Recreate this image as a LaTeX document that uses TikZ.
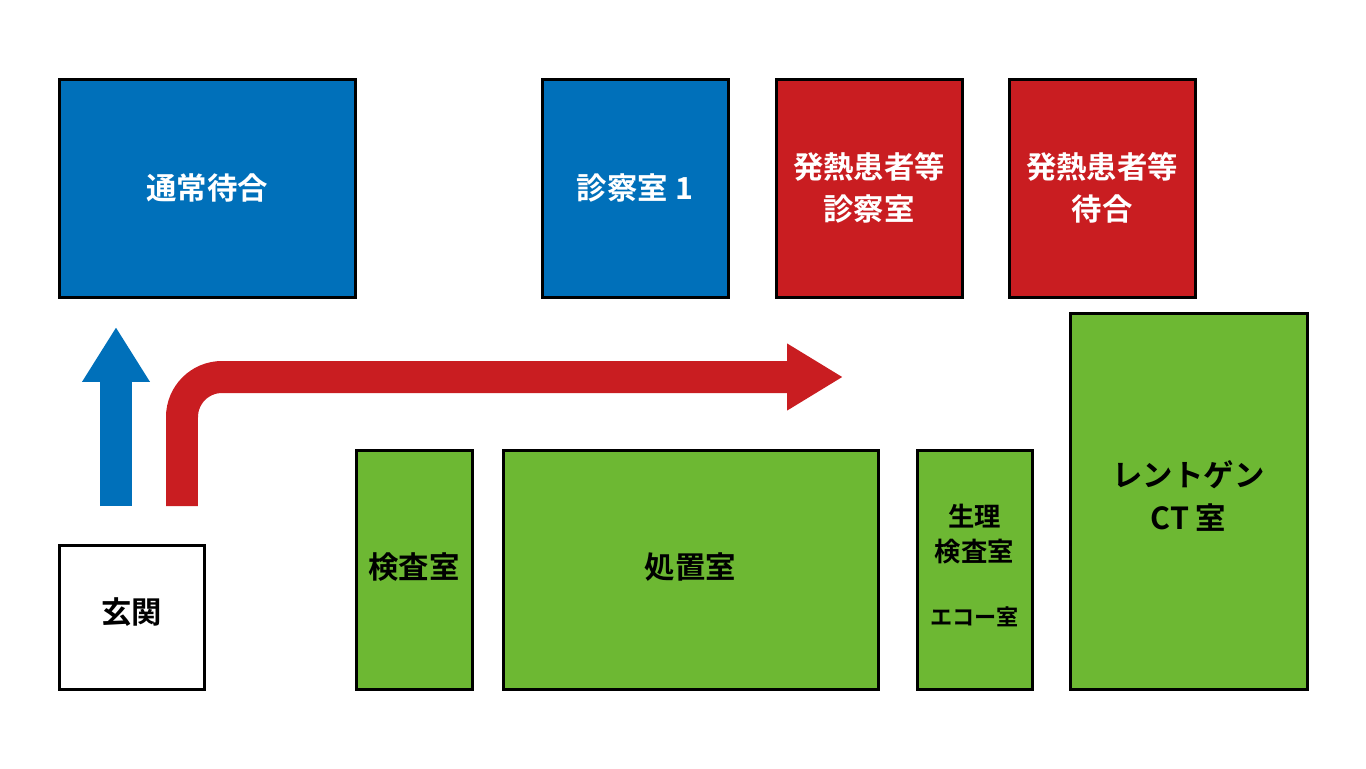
\documentclass[tikz,border=0pt]{standalone}
\usepackage{fontspec}
\setmainfont{Noto Sans CJK JP}[BoldFont={* Bold}]
\usetikzlibrary{arrows.meta}
\definecolor{roomblue}{HTML}{0070BA}
\definecolor{roomred}{HTML}{C91D21}
\definecolor{roomgreen}{HTML}{6DB833}
\begin{document}
\begin{tikzpicture}[x=0.02cm,y=-0.02cm,
  room/.style={draw=black,line width=0.06cm},
  label/.style={align=center,font=\fontsize{17.3}{24}\selectfont\bfseries},
  small/.style={align=center,font=\fontsize{15}{20}\selectfont\bfseries},
  tiny/.style={align=center,font=\fontsize{12.6}{14}\selectfont\bfseries}]
\useasboundingbox (0,0) rectangle (1366,768);
%\draw[help lines,step=100] (0,0) grid (1366,768);
% rooms on top
\draw[room,fill=roomblue] (59,79) rectangle (355,297) node[midway,label,white] (wait) {通常待合};
\draw[room,fill=roomblue] (542,79) rectangle (728,297) node[midway,label,white] (exam) {診察室 1};
\draw[room,fill=roomred] (776,79) rectangle (962,297) node[midway,label,white] (feverexam) {発熱患者等\\診察室};
\draw[room,fill=roomred] (1009,79) rectangle (1195,297) node[midway,label,white] (feverwait) {発熱患者等\\待合};
% rooms below
\draw[room,fill=white] (59,545) rectangle (204,689) node[midway,label,yshift=0.1cm] (entrance) {玄関};
\draw[room,fill=roomgreen] (356,450) rectangle (472,689) node[midway,label,yshift=0.04cm] (lab) {検査室};
\draw[room,fill=roomgreen] (503,450) rectangle (878,689) node[midway,label,yshift=0.04cm] (treat) {処置室};
\draw[room,fill=roomgreen] (917,450) rectangle (1032,689);
\node[small] (physio) at (974.5,534) {生理\\検査室};
\node[tiny] (echo) at (974.5,617) {エコー室};
\draw[room,fill=roomgreen] (1070,313) rectangle (1307,689);
\node[label] (xray) at (1188.5,496) {レントゲン\\CT 室};
% arrows
\draw[roomblue,line width=0.64cm,-{Triangle[length=1.1cm,width=1.28cm]}] (116,506) -- (116,327);
\draw[roomred,line width=0.64cm,rounded corners=0.8cm,-{Triangle[length=1.12cm,width=1.26cm]}] (182,506) -- (182,377) -- (843,377);
\end{tikzpicture}
\end{document}
